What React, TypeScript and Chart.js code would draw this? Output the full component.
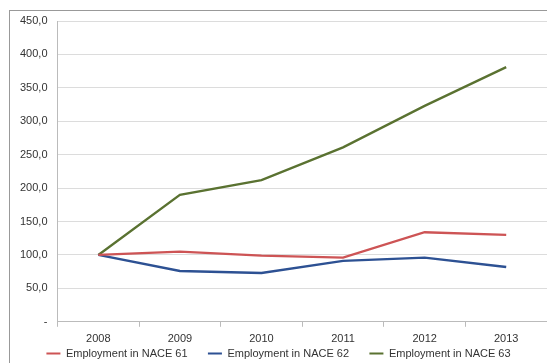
import React, { useEffect, useRef } from "react";
import { Chart, registerables } from "chart.js";

Chart.register(...registerables);

const categories = ["2008", "2009", "2010", "2011", "2012", "2013"];
const nace61 = [100, 105, 99, 96, 134, 130];
const nace62 = [100, 76, 73, 91, 96, 82];
const nace63 = [100, 190, 212, 261, 323, 381];
const seriesNames = ["Employment in NACE 61", "Employment in NACE 62", "Employment in NACE 63"];
const yTicks = [0, 50, 100, 150, 200, 250, 300, 350, 400, 450];
const colors = ["#CD5455", "#2D5193", "#5A7231"];

export default function App() {
  const ref = useRef<HTMLCanvasElement>(null);
  useEffect(() => {
    if (!ref.current) return;
    const font = { family: "'Liberation Sans', Arial, sans-serif", size: 11 };
    const chart = new Chart(ref.current, {
      type: "line",
      data: {
        labels: categories,
        datasets: [
          { label: seriesNames[0], data: nace61, borderColor: colors[0], backgroundColor: colors[0], borderWidth: 2.3, pointRadius: 0, tension: 0 },
          { label: seriesNames[1], data: nace62, borderColor: colors[1], backgroundColor: colors[1], borderWidth: 2.3, pointRadius: 0, tension: 0 },
          { label: seriesNames[2], data: nace63, borderColor: colors[2], backgroundColor: colors[2], borderWidth: 2.3, pointRadius: 0, tension: 0 },
        ],
      },
      options: {
        animation: false,
        responsive: false,
        maintainAspectRatio: false,
        layout: { padding: { left: 10, right: 0, top: 21, bottom: -6 } },
        plugins: {
          tooltip: { enabled: false },
          legend: {
            position: "bottom",
            labels: {
              boxWidth: 14,
              boxHeight: 0,
              padding: 2,
              color: "#333",
              font,
              generateLabels: (c: any) =>
                c.data.datasets.map((ds: any, i: number) => ({
                  text: i < c.data.datasets.length - 1 ? ds.label + "      " : ds.label,
                  fillStyle: ds.borderColor,
                  strokeStyle: ds.borderColor,
                  lineWidth: 2.2,
                  hidden: false,
                  datasetIndex: i,
                  fontColor: "#333",
                })),
            },
          },
        },
        scales: {
          x: {
            type: "category",
            offset: true,
            afterFit: (scale: any) => {
              scale.height -= 6;
            },
            grid: { offset: true, drawOnChartArea: false, drawTicks: true, tickLength: 5, color: "#bbb" },
            border: { color: "#bbb" },
            ticks: { color: "#333", font, padding: 6, maxRotation: 0 },
          },
          y: {
            min: 0,
            max: 450,
            afterBuildTicks: (axis: any) => {
              axis.ticks = yTicks.map((v) => ({ value: v }));
            },
            grid: { color: "#dcdcdc", drawTicks: false, lineWidth: 1 },
            border: { color: "#bbb" },
            ticks: {
              color: "#333",
              font,
              padding: 10,
              callback: (v: any) => (Number(v) === 0 ? "-" : Number(v).toFixed(1).replace(".", ",")),
            },
          },
        },
      },
    });
    return () => chart.destroy();
  }, []);
  return (
    <div style={{ position: "absolute", left: 0, top: 0, width: 547, height: 363, overflow: "hidden", background: "#fff" }}>
      <div style={{ position: "absolute", left: 9, top: 10, width: 600, height: 400, border: "1px solid #999", boxSizing: "border-box" }} />
      <canvas ref={ref} width={547} height={363} style={{ position: "absolute", left: 0, top: 0 }} />
    </div>
  );
}
